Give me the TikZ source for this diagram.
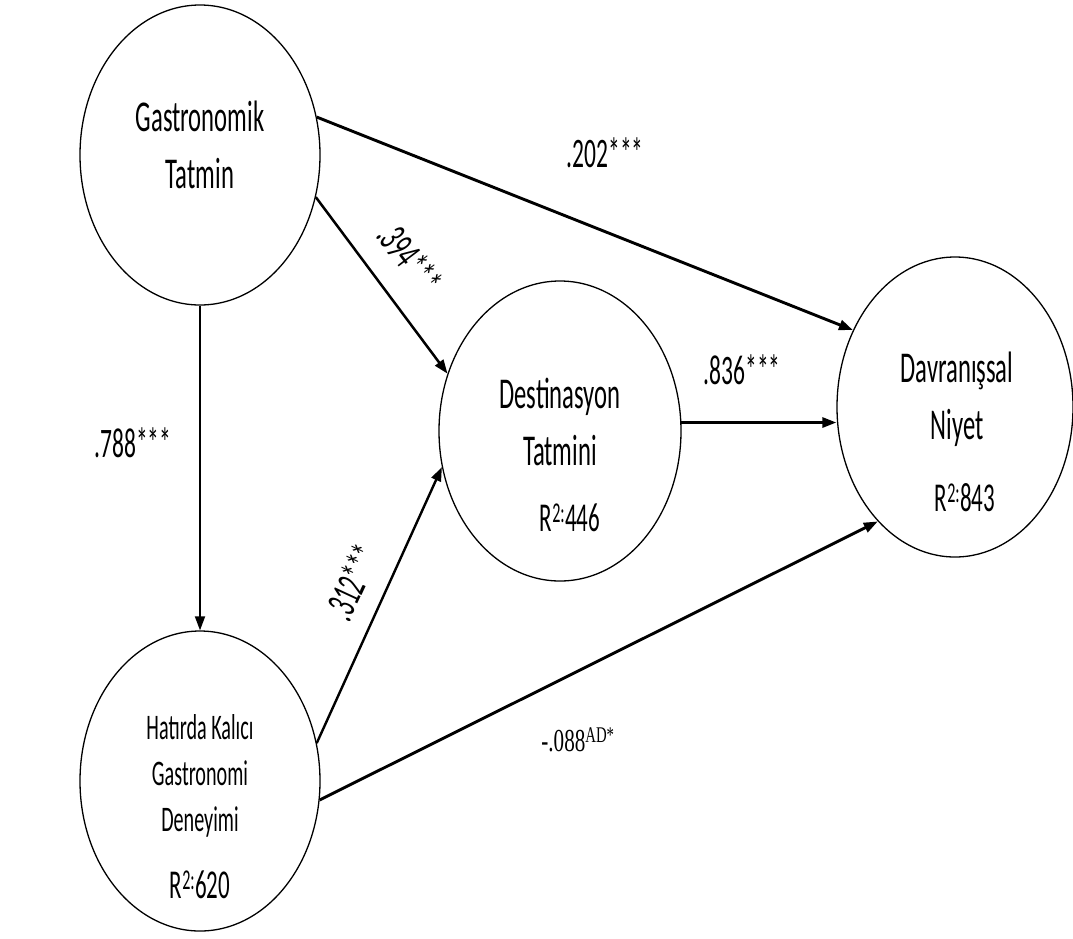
\documentclass[tikz,border=0pt]{standalone}
\usepackage{fontspec}
\setmainfont{Carlito}[FakeStretch=0.56]
\newfontfamily\numserif{Liberation Serif}[FakeStretch=0.66]
\usetikzlibrary{arrows.meta,shapes.geometric}
\begin{document}
\begin{tikzpicture}[x=1pt,y=-1pt,>={Triangle[length=14pt,width=10pt]},
  latent/.style={draw,ellipse,line width=1.3pt,minimum width=240pt,minimum height=300pt,inner sep=0pt},
  title/.style={align=center,font=\fontsize{44}{57}\selectfont},
  rsq/.style={font=\fontsize{41}{44}\selectfont},
  coef/.style={font=\fontsize{42}{44}\selectfont},
  path/.style={->,line width=2.9pt}]
\useasboundingbox (0,0) rectangle (1073,938);
\node[latent] (gt) at (200,155) {};
\node[latent] (hk) at (200,781) {};
\node[latent,minimum width=242pt] (ds) at (560,431) {};
\node[latent,minimum width=236pt] (dn) at (955,407) {};
\node[title] (gtT) at (200,145) {Gastronomik\\Tatmin};
\node[title,font=\fontsize{36}{46}\selectfont] (hkT) at (200,776) {Hatırda Kalıcı\\Gastronomi\\Deneyimi};
\node[rsq] (hkR) at (200,885) {R\textsuperscript{2:}620};
\node[title] (dsT) at (560,422) {Destinasyon\\Tatmini};
\node[rsq] (dsR) at (570,518) {R\textsuperscript{2:}446};
\node[title] (dnT) at (957,399) {Davranışsal\\Niyet};
\node[rsq] (dnR) at (965,498) {R\textsuperscript{2:}843};
\draw[->,line width=1.8pt] (gt.south) -- (hk.north);
\draw[path,line width=2.5pt] (gt.-20) -- (ds.153);
\draw[path] (gt.18) -- (dn.143.5);
\draw[path] (ds.4) -- (ds.4 -| dn.west);
\draw[path,line width=2.4pt] (hk.18) -- (ds.197);
\draw[path] (hk.-9) -- (dn.236);
\node[coef] (c202) at (605,153) {.202***};
\node[coef,rotate=-53] (c394) at (410,258) {.394***};
\node[coef] (c836) at (742,370) {.836***};
\node[coef] (c788) at (133,443) {.788***};
\node[coef,rotate=65] (c312) at (352,582) {.312***};
\node[font=\numserif\fontsize{32}{36}\selectfont] (c088) at (578,740) {-.088\textsuperscript{AD*}};
\end{tikzpicture}
\end{document}
